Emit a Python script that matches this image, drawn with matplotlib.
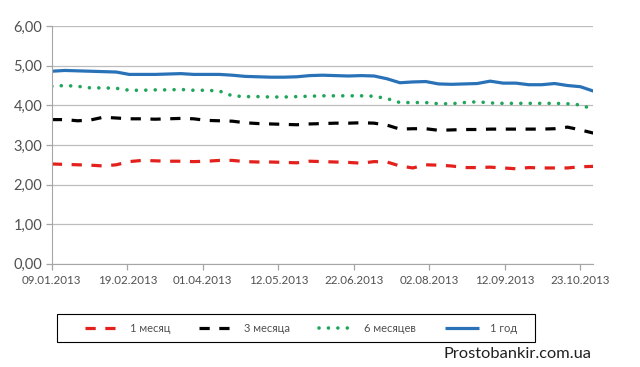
import datetime as dt

import matplotlib
matplotlib.use("Agg")
import matplotlib.pyplot as plt
import matplotlib.dates as mdates
from matplotlib.patches import Rectangle
from matplotlib.ticker import FuncFormatter

# weekly observations starting 09.01.2013
start = dt.date(2013, 1, 9)
dates = [start + dt.timedelta(days=7 * i) for i in range(43)]

rate_1m = [2.52, 2.51, 2.50, 2.49, 2.47, 2.50, 2.58, 2.61, 2.60, 2.59, 2.59, 2.58, 2.59, 2.61,
           2.61, 2.58, 2.57, 2.57, 2.56, 2.55, 2.59, 2.58, 2.57, 2.56, 2.54, 2.58, 2.57, 2.47,
           2.42, 2.50, 2.49, 2.47, 2.43, 2.43, 2.44, 2.42, 2.40, 2.43, 2.42, 2.42, 2.42, 2.45, 2.46]
rate_3m = [3.64, 3.64, 3.61, 3.63, 3.70, 3.68, 3.66, 3.66, 3.65, 3.66, 3.67, 3.66, 3.62, 3.61,
           3.60, 3.56, 3.54, 3.53, 3.52, 3.51, 3.53, 3.54, 3.55, 3.55, 3.56, 3.55, 3.50, 3.40,
           3.41, 3.41, 3.37, 3.38, 3.39, 3.39, 3.40, 3.40, 3.40, 3.40, 3.40, 3.41, 3.45, 3.38, 3.30]
rate_6m = [4.48, 4.50, 4.48, 4.44, 4.44, 4.43, 4.38, 4.38, 4.39, 4.39, 4.40, 4.38, 4.38, 4.36,
           4.24, 4.22, 4.22, 4.21, 4.21, 4.22, 4.23, 4.24, 4.24, 4.24, 4.24, 4.23, 4.17, 4.07,
           4.07, 4.07, 4.04, 4.04, 4.07, 4.09, 4.06, 4.05, 4.05, 4.05, 4.05, 4.05, 4.04, 4.01, 3.90]
rate_1y = [4.86, 4.88, 4.87, 4.86, 4.85, 4.84, 4.78, 4.78, 4.78, 4.79, 4.80, 4.78, 4.78, 4.78,
           4.76, 4.73, 4.72, 4.71, 4.71, 4.72, 4.75, 4.76, 4.75, 4.74, 4.75, 4.74, 4.67, 4.57,
           4.59, 4.60, 4.54, 4.53, 4.54, 4.55, 4.61, 4.56, 4.56, 4.52, 4.52, 4.55, 4.50, 4.47, 4.36]

labels = ["1 месяц", "3 месяца", "6 месяцев", "1 год"]
tick_dates = [start + dt.timedelta(days=41 * i) for i in range(8)]

plt.rcParams["font.family"] = ["Lato", "DejaVu Sans"]
text_color = "#505050"

fig = plt.figure(figsize=(6.4, 3.67), dpi=100)
ax = fig.add_axes([0.081, 0.281, 0.846, 0.648])

dash = dict(lw=2.3, dashes=(3.2, 3.0), dash_capstyle="butt")
ax.plot(dates, rate_1m, color="#e3201b", label=labels[0], **dash)
ax.plot(dates, rate_3m, color="black", label=labels[1], **dash)
ax.plot(dates, rate_6m, color="#1fa65a", lw=2.6, dashes=(0.01, 2.6), dash_capstyle="round", label=labels[2])
ax.plot(dates, rate_1y, color="#2a72b8", lw=2.3, solid_capstyle="butt", label=labels[3])

ax.set_ylim(0, 6)
ax.set_yticks(range(7))
ax.yaxis.set_major_formatter(FuncFormatter(lambda v, p: f"{v:.2f}".replace(".", ",")))
ax.set_xlim(dates[0], dates[-1])
ax.set_xticks(tick_dates)
ax.xaxis.set_major_formatter(mdates.DateFormatter("%d.%m.%Y"))

ax.grid(axis="y", color="#bdbdbd", lw=0.9)
ax.set_axisbelow(True)
for side in ["top", "right"]:
    ax.spines[side].set_visible(False)
for side in ["left", "bottom"]:
    ax.spines[side].set_color("#a6a6a6")
ax.tick_params(colors="#a6a6a6", labelcolor=text_color, length=4, width=0.9)
ax.tick_params(axis="x", labelsize=8.3, pad=4)
ax.tick_params(axis="y", labelsize=10.5, pad=3)

# legend entries laid out inside a hand-drawn box
fig.legend(loc="center", ncol=4, mode="expand", bbox_to_anchor=(0.1328, 0.09, 0.675, 0.03),
           frameon=False, fontsize=8, handlelength=3.06, handletextpad=1.0,
           borderpad=0, borderaxespad=0, labelcolor=text_color)
fig.add_artist(Rectangle((57 / 640, 1 - 342 / 367), 478 / 640, 28 / 367, transform=fig.transFigure,
                         fill=False, edgecolor="black", lw=0.8))

fig.text(0.924, 0.036, "Prostobankir.com.ua", ha="right", va="center", fontsize=11.8, color="#202020")

fig.savefig("out.png", dpi=100)
